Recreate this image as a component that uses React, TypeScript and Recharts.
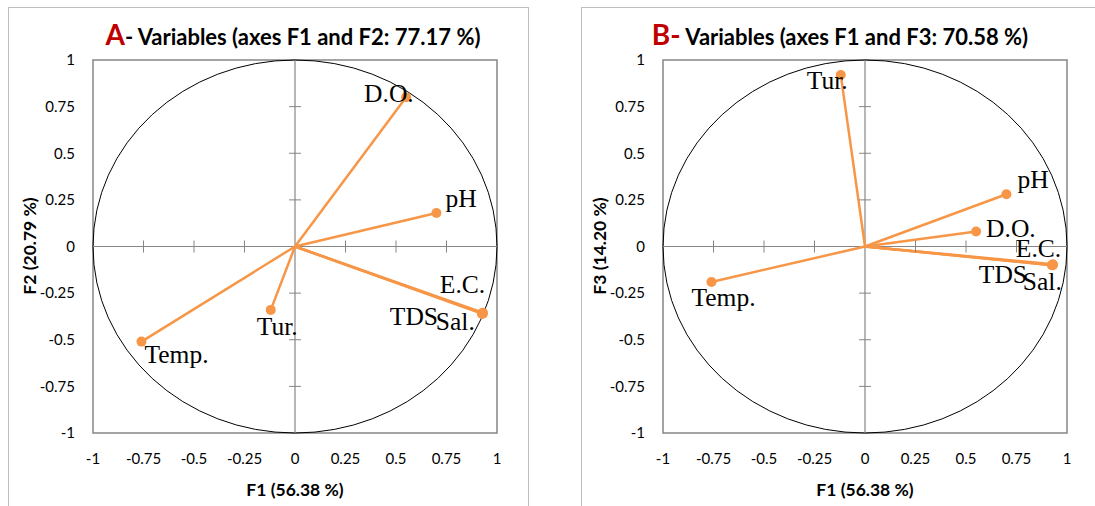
import React from 'react';
import { ScatterChart, Scatter, XAxis, YAxis, ReferenceLine, ReferenceArea, ReferenceDot } from 'recharts';

// ---------- data ----------
const axisTicks = [-1, -0.75, -0.5, -0.25, 0, 0.25, 0.5, 0.75, 1];
const tickLabels = ['-1', '-0.75', '-0.5', '-0.25', '0', '0.25', '0.5', '0.75', '1'];

const variables = ['D.O.', 'pH', 'E.C.', 'TDS', 'Sal.', 'Tur.', 'Temp.'];
const f1 = [0.55, 0.70, 0.93, 0.925, 0.93, -0.12, -0.76];
const f2 = [0.80, 0.18, -0.355, -0.36, -0.36, -0.34, -0.51];
const f3 = [0.08, 0.28, -0.095, -0.10, -0.10, 0.92, -0.19];

const titleA = { letter: 'A', rest: '- Variables (axes F1 and F2: 77.17 %)' };
const titleB = { letter: 'B-', rest: ' Variables (axes F1 and F3: 70.58 %)' };
const xTitle = 'F1 (56.38 %)';
const yTitleA = 'F2 (20.79 %)';
const yTitleB = 'F3 (14.20 %)';

// ---------- layout (label offsets in px from point) ----------
const labelOffsetA: Record<string, [number, number]> = {
  'D.O.': [-42, 5],
  pH: [9, -6],
  'E.C.': [-43, -20],
  TDS: [-92, 11],
  'Sal.': [-47, 16],
  'Tur.': [-14, 25],
  'Temp.': [3, 21],
};
const labelOffsetB: Record<string, [number, number]> = {
  'D.O.': [10, 5],
  pH: [11, -6],
  'E.C.': [-37, -7],
  TDS: [-73, 18],
  'Sal.': [-30, 25],
  'Tur.': [-34, 14],
  'Temp.': [-20, 24],
};

const ORANGE = '#F79646';
const GRAY = '#868686';
const TICK_FONT = 'Lato, "Open Sans", sans-serif';

const CircleBox = (props: any) => {
  const { x, y, width, height } = props;
  return (
    <g>
      <rect x={x} y={y} width={width} height={height} fill="none" stroke={GRAY} strokeWidth={1.5} />
      <ellipse cx={x + width / 2} cy={y + height / 2} rx={width / 2} ry={height / 2} fill="none" stroke="#000" strokeWidth={1} />
    </g>
  );
};

const VTick = (p: any) => <line x1={p.cx} x2={p.cx} y1={p.cy - 6} y2={p.cy + 6} stroke={GRAY} strokeWidth={1} />;
const HTick = (p: any) => <line x1={p.cx - 6} x2={p.cx + 6} y1={p.cy} y2={p.cy} stroke={GRAY} strokeWidth={1} />;

function makeShape(offsets: Record<string, [number, number]>) {
  return (p: any) => {
    const name = p.payload?.name;
    const off = offsets[name] || [0, 0];
    return (
      <g>
        <circle cx={p.cx} cy={p.cy} r={5} fill={ORANGE} />
        <text x={p.cx + off[0]} y={p.cy + off[1]} fontFamily='"Liberation Serif", "Times New Roman", serif' fontSize={25.5} fill="#000">
          {name}
        </text>
      </g>
    );
  };
}

function Panel({ yVals, offsets, yAxisWidth, rightMargin }: any) {
  const data = variables.map((name, i) => ({ name, x: f1[i], y: yVals[i] }));
  return (
    <ScatterChart width={521} height={499} margin={{ top: 53, right: rightMargin, bottom: 33, left: 0 }}>
      <XAxis
        type="number"
        dataKey="x"
        domain={[-1, 1]}
        ticks={axisTicks}
        tickFormatter={(v: number) => tickLabels[axisTicks.indexOf(v)]}
        axisLine={false}
        tickLine={false}
        tickSize={0}
        tickMargin={20}
        height={40}
        allowDataOverflow
        tick={{ fontSize: 15, fill: '#000', fontFamily: TICK_FONT }}
      />
      <YAxis
        type="number"
        dataKey="y"
        domain={[-1, 1]}
        ticks={axisTicks}
        tickFormatter={(v: number) => tickLabels[axisTicks.indexOf(v)]}
        axisLine={false}
        tickLine={false}
        tickSize={0}
        tickMargin={18}
        width={yAxisWidth}
        allowDataOverflow
        tick={{ fontSize: 15, fill: '#000', fontFamily: TICK_FONT }}
      />
      <ReferenceArea x1={-1} x2={1} y1={-1} y2={1} shape={CircleBox} ifOverflow="visible" />
      <ReferenceLine x={0} stroke={GRAY} strokeWidth={1.2} />
      <ReferenceLine y={0} stroke={GRAY} strokeWidth={1.2} />
      {axisTicks.filter((t) => t !== 0 && Math.abs(t) !== 1).map((t) => (
        <ReferenceDot key={'vx' + t} x={t} y={0} r={0} shape={VTick} ifOverflow="visible" />
      ))}
      {axisTicks.filter((t) => t !== 0 && Math.abs(t) !== 1).map((t) => (
        <ReferenceDot key={'hy' + t} x={0} y={t} r={0} shape={HTick} ifOverflow="visible" />
      ))}
      {data.map((d) => (
        <ReferenceLine
          key={'seg' + d.name}
          segment={[{ x: 0, y: 0 }, { x: d.x, y: d.y }]}
          stroke={ORANGE}
          strokeWidth={2.5}
          ifOverflow="visible"
        />
      ))}
      <Scatter data={data} dataKey="y" isAnimationActive={false} shape={makeShape(offsets)} />
    </ScatterChart>
  );
}

const titleStyle: React.CSSProperties = {
  position: 'absolute',
  whiteSpace: 'nowrap',
  fontFamily: TICK_FONT,
  fontWeight: 700,
  fontSize: 22,
  color: '#000',
  transform: 'translateX(-50%)',
  lineHeight: '28px',
};

const axisTitleStyle: React.CSSProperties = { ...titleStyle, fontSize: 17.5 };

export default function App() {
  return (
    <div style={{ position: 'absolute', left: 0, top: 0, width: 1095, height: 506, overflow: 'hidden', background: '#fff' }}>
      <div style={{ position: 'absolute', left: 8, top: 7, width: 521, height: 520, border: '1.5px solid #bfbfbf', boxSizing: 'border-box' }} />
      <div style={{ position: 'absolute', left: 581, top: 7, width: 521, height: 520, border: '1.5px solid #bfbfbf', boxSizing: 'border-box' }} />
      <div style={{ position: 'absolute', left: 8, top: 7 }}>
        <Panel yVals={f2} offsets={labelOffsetA} yAxisWidth={85} rightMargin={32} />
      </div>
      <div style={{ position: 'absolute', left: 581, top: 7 }}>
        <Panel yVals={f3} offsets={labelOffsetB} yAxisWidth={82} rightMargin={35} />
      </div>
      {/* Titles */}
      <div style={{ ...titleStyle, left: 293, top: 20 }}>
        <span style={{ color: '#C00000', fontSize: 28 }}>{titleA.letter}</span>
        {titleA.rest}
      </div>
      <div style={{ ...titleStyle, left: 840, top: 20 }}>
        <span style={{ color: '#C00000', fontSize: 28 }}>{titleB.letter}</span>
        {titleB.rest}
      </div>
      {/* X titles */}
      <div style={{ ...axisTitleStyle, left: 295, top: 476 }}>{xTitle}</div>
      <div style={{ ...axisTitleStyle, left: 865, top: 476 }}>{xTitle}</div>
      {/* Y titles */}
      <div style={{ ...axisTitleStyle, left: 30, top: 232, transform: 'translateX(-50%) rotate(-90deg)' }}>{yTitleA}</div>
      <div style={{ ...axisTitleStyle, left: 600, top: 232, transform: 'translateX(-50%) rotate(-90deg)' }}>{yTitleB}</div>
    </div>
  );
}
